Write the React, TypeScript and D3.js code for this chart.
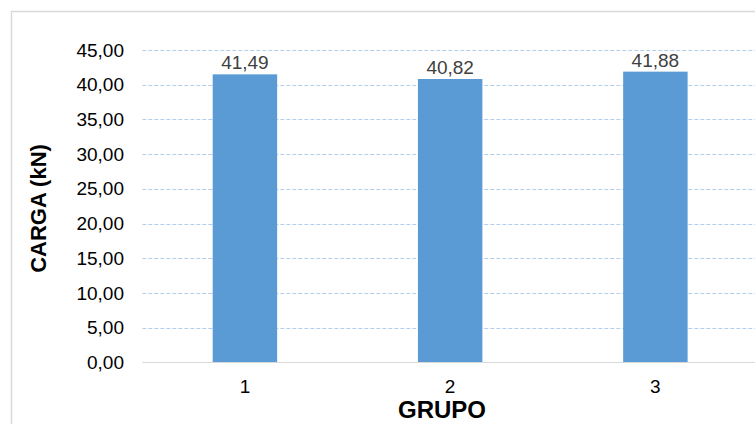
import React from "react";
import * as d3 from "d3";

const categories = ["1", "2", "3"];
const values = [41.49, 40.82, 41.88];
const yTicks = [0, 5, 10, 15, 20, 25, 30, 35, 40, 45];

const W = 755;
const H = 424;
const plotLeft = 142.3;
const plotRight = 758;
const plotTop = 50;
const plotBottom = 362.3;

const fmt = (v: number) => v.toFixed(2).replace(".", ",");

export default function App() {
  const x = d3.scaleBand<string>().domain(categories).range([plotLeft, plotRight]).paddingInner(0.686).paddingOuter(0.343);
  const y = d3.scaleLinear().domain([0, 45]).range([plotBottom, plotTop]);
  const font = "'Liberation Sans', Arial, sans-serif";
  return (
    <svg width={W} height={H} style={{ position: "absolute", left: 0, top: 0, background: "#fff" }}>
      <rect x={11.5} y={11.5} width={W + 20} height={H + 20} fill="#fff" stroke="#d9d9d9" strokeWidth={1.5} />
      {yTicks.filter((t) => t > 0).map((t) => (
        <line key={t} x1={plotLeft} x2={plotRight} y1={Math.round(y(t)) + 0.5} y2={Math.round(y(t)) + 0.5} stroke="#b4cfee" strokeWidth={1} strokeDasharray="4,2" />
      ))}
      {yTicks.map((t) => (
        <text key={t} x={124} y={y(t)} dy="0.35em" textAnchor="end" fontFamily={font} fontSize={19} fill="#000">
          {fmt(t)}
        </text>
      ))}
      {categories.map((c, i) => (
        <g key={c}>
          <rect x={x(c)} y={y(values[i])} width={x.bandwidth()} height={plotBottom - y(values[i])} fill="#5b9bd5" />
          <text x={(x(c) as number) + x.bandwidth() / 2} y={y(values[i]) - 5} textAnchor="middle" fontFamily={font} fontSize={19} fill="#404040">
            {fmt(values[i])}
          </text>
          <text x={(x(c) as number) + x.bandwidth() / 2} y={393} textAnchor="middle" fontFamily={font} fontSize={19} fill="#000">
            {c}
          </text>
        </g>
      ))}
      <line x1={plotLeft} x2={plotRight} y1={Math.round(plotBottom) + 0.5} y2={Math.round(plotBottom) + 0.5} stroke="#d9d9d9" strokeWidth={1} />
      <text x={442} y={418} textAnchor="middle" fontFamily={font} fontSize={24} fontWeight="bold" fill="#000">
        GRUPO
      </text>
      <text transform={`translate(46,${208.5}) rotate(-90)`} textAnchor="middle" fontFamily={font} fontSize={22} fontWeight="bold" fill="#000">
        CARGA (kN)
      </text>
    </svg>
  );
}
